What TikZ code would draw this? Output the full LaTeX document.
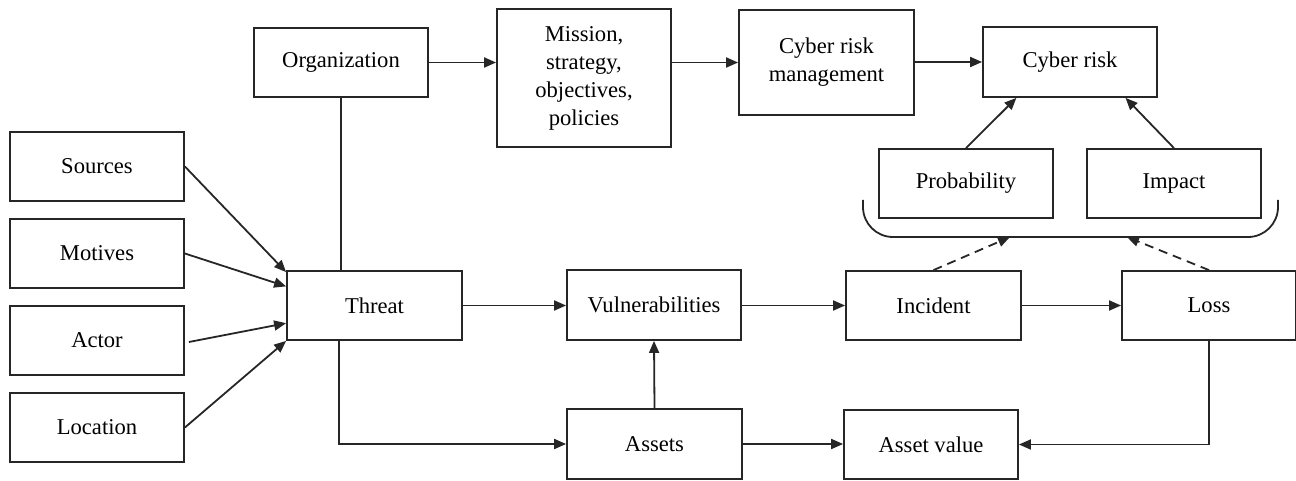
\documentclass[tikz,border=0pt]{standalone}
\usepackage{fontspec}
\setmainfont{Liberation Serif}
\usetikzlibrary{arrows.meta,calc}
\begin{document}
\begin{tikzpicture}[x=1pt,y=-1pt,
  box/.style={draw=black!85,line width=1.8pt,inner sep=0pt,minimum width=174pt,minimum height=69pt,align=center,font=\rmfamily\fontsize{22.6}{28}\selectfont},
  conn/.style={line width=1.8pt,draw=black!85,-{Triangle[length=12pt,width=10pt]}},
  plain/.style={line width=1.8pt,draw=black!85},
  dashedconn/.style={conn,dash pattern=on 9pt off 6pt}]
\useasboundingbox (0,0) rectangle (1296,481);
\node[box] (org) at (341,62.5) {Organization};
\node[box,minimum height=138pt] (mission) at (584,78) {Mission,\\strategy,\\objectives,\\policies};
\node[box,minimum width=175pt,minimum height=105pt] (crm) at (826.5,62.5) {Cyber risk\\management};
\node[box,minimum height=70pt] (cr) at (1070,62) {Cyber risk};
\node[box] (prob) at (966,183.5) {Probability};
\node[box] (impact) at (1174,183.5) {Impact};
\node[box] (sources) at (97,166.5) {Sources};
\node[box] (motives) at (97,253.5) {Motives};
\node[box] (actor) at (97,340.5) {Actor};
\node[box] (location) at (97,427.5) {Location};
\node[box,minimum width=175pt] (threat) at (374.5,305.5) {Threat};
\node[box,minimum height=70pt] (vuln) at (654,305) {Vulnerabilities};
\node[box,minimum width=175pt,minimum height=70pt] (assets) at (654.5,444) {Assets};
\node[box,minimum width=175pt] (incident) at (933.5,305.5) {Incident};
\node[box,minimum width=174pt] (loss) at (1209,305.5) {Loss};
\node[box] (av) at (931,444.5) {Asset value};
% brace
\coordinate (bl) at (863,200);
\coordinate (br) at (1278,200);
\coordinate (bb) at (1070,237);
\draw[plain,rounded corners=30pt] (bl) |- (bb) -| (br);
\coordinate (pt1) at (1010,237);
\coordinate (pt2) at (1127,237);
% connectors
\draw[conn] (org.east) -- (org.east -| mission.west);
\draw[conn] (mission.east |- org.east) -- (crm.west |- org.east);
\draw[conn] (crm.east |- cr.west) -- (cr.west);
\draw[conn] (prob.north) -- ($(cr.south west)!0.195!(cr.south east)$);
\draw[conn] (impact.north) -- ($(cr.south west)!0.816!(cr.south east)$);
\draw[plain] (org.south) -- (org.south |- threat.north);
\draw[conn] (sources.east) -- ([yshift=-2pt]threat.north west);
\draw[conn] (motives.east) -- ($(threat.north west)!0.23!(threat.south west)$);
\draw[conn] ([xshift=4pt,yshift=-1.5pt]actor.east) -- ($(threat.north west)!0.75!(threat.south west)$);
\draw[conn] (location.east) -- (threat.south west);
\draw[conn] (threat.east) -- (threat.east -| vuln.west);
\draw[conn] (vuln.east |- incident.west) -- (incident.west);
\draw[conn] (incident.east) -- (loss.west);
\draw[conn] (assets.north) -- (vuln.south);
\draw[conn] ([xshift=-2pt]threat.south -| org.south) |- (assets.west);
\draw[conn] (assets.east) -- (assets.east -| av.west);
\draw[conn] (loss.south) |- (av.east);
\draw[dashedconn] (incident.north) -- (pt1);
\draw[dashedconn] (loss.north) -- (pt2);
\end{tikzpicture}
\end{document}
